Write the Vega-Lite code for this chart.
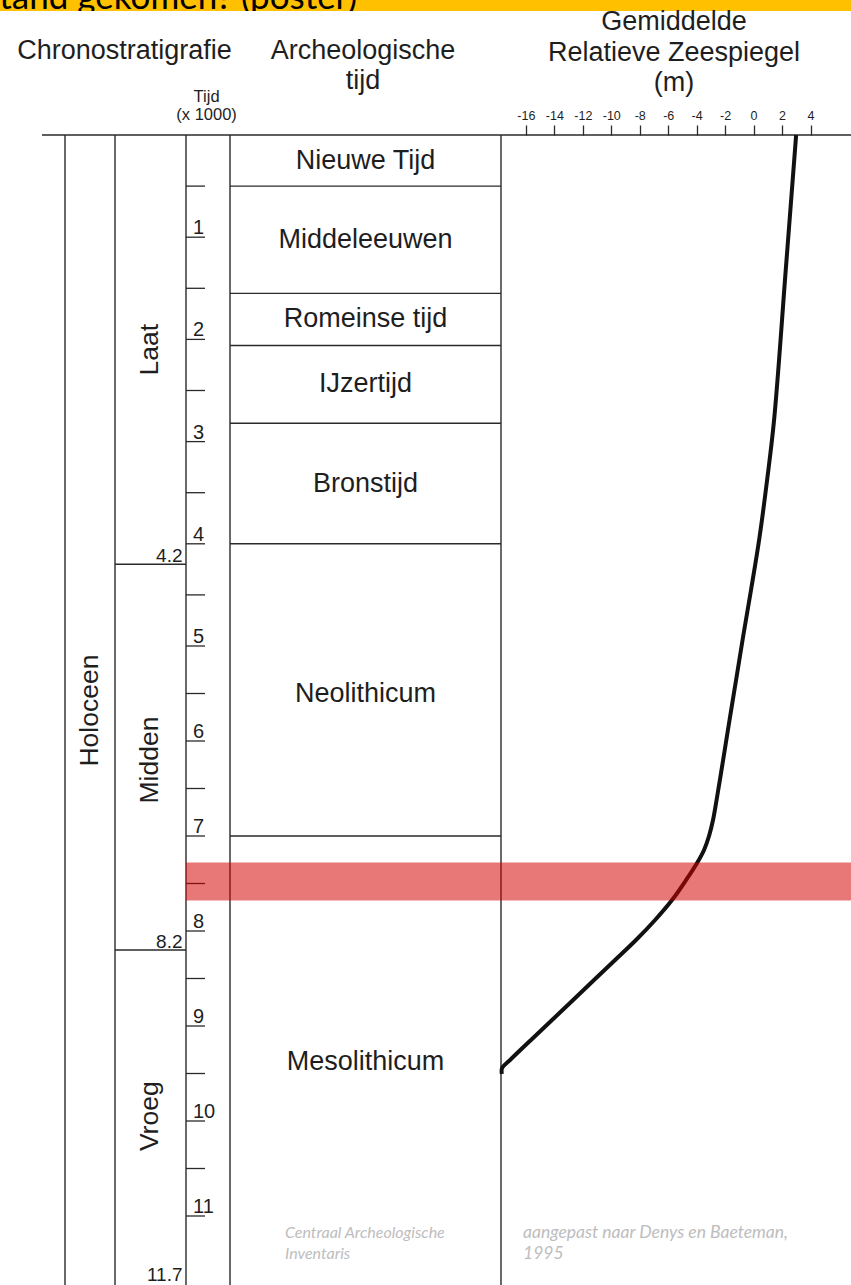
{
  "$schema": "https://vega.github.io/schema/vega-lite/v6.json",
  "width": 851,
  "height": 1285,
  "padding": 0,
  "autosize": "none",
  "background": "#ffffff",
  "config": {"view": {"stroke": null}},
  "datasets": {
    "archeologie": [
      {"periode": "Nieuwe Tijd", "begin": 0, "eind": 0.5},
      {"periode": "Middeleeuwen", "begin": 0.5, "eind": 1.55},
      {"periode": "Romeinse tijd", "begin": 1.55, "eind": 2.06},
      {"periode": "IJzertijd", "begin": 2.06, "eind": 2.82},
      {"periode": "Bronstijd", "begin": 2.82, "eind": 4.0},
      {"periode": "Neolithicum", "begin": 4.0, "eind": 7.0},
      {"periode": "Mesolithicum", "begin": 7.0, "eind": 11.75}
    ],
    "chrono": [
      {"serie": "Laat", "begin": 0, "eind": 4.2},
      {"serie": "Midden", "begin": 4.2, "eind": 8.2},
      {"serie": "Vroeg", "begin": 8.2, "eind": 11.7}
    ],
    "tijdstreepjes": [
      {"t": 0.5}, {"t": 1}, {"t": 1.5}, {"t": 2}, {"t": 2.5}, {"t": 3}, {"t": 3.5}, {"t": 4},
      {"t": 4.5}, {"t": 5}, {"t": 5.5}, {"t": 6}, {"t": 6.5}, {"t": 7}, {"t": 7.5}, {"t": 8},
      {"t": 8.5}, {"t": 9}, {"t": 9.5}, {"t": 10}, {"t": 10.5}, {"t": 11}
    ],
    "zeespiegel": [
      {"ka": 0, "m": 2.99},
      {"ka": 1.321, "m": 2.26},
      {"ka": 2.789, "m": 1.44},
      {"ka": 3.376, "m": 0.95},
      {"ka": 3.933, "m": 0.42},
      {"ka": 4.452, "m": -0.18},
      {"ka": 4.912, "m": -0.74},
      {"ka": 5.358, "m": -1.23},
      {"ka": 5.779, "m": -1.69},
      {"ka": 6.2, "m": -2.14},
      {"ka": 6.621, "m": -2.6},
      {"ka": 6.832, "m": -2.85},
      {"ka": 7.0, "m": -3.13},
      {"ka": 7.147, "m": -3.48},
      {"ka": 7.284, "m": -3.97},
      {"ka": 7.463, "m": -4.74},
      {"ka": 7.674, "m": -5.73},
      {"ka": 7.884, "m": -6.92},
      {"ka": 8.095, "m": -8.26},
      {"ka": 8.305, "m": -9.73},
      {"ka": 8.516, "m": -11.21},
      {"ka": 8.726, "m": -12.68},
      {"ka": 8.937, "m": -14.16},
      {"ka": 9.147, "m": -15.64},
      {"ka": 9.358, "m": -17.11},
      {"ka": 9.442, "m": -17.67},
      {"ka": 9.505, "m": -17.69}
    ],
    "markering": [{"van": 7.28, "tot": 7.68}]
  },
  "resolve": {"scale": {"x": "independent"}},
  "layer": [
    {
      "layer": [
        {
          "data": {"values": [{}]},
          "mark": {"type": "rect", "color": "#FFC000"},
          "encoding": {
            "x": {"datum": 0, "scale": {"domain": [0, 851], "nice": false, "zero": false}, "axis": null},
            "x2": {"datum": 851},
            "y": {"datum": -1.4, "scale": {"domain": [0, 5, 11], "range": [135, 646, 1216], "nice": false, "zero": false}, "axis": null},
            "y2": {"datum": -1.213}
          }
        },
        {
          "data": {"values": [{"tekst": "stand gekomen? (poster)"}]},
          "mark": {"type": "text", "font": "Lato", "fontSize": 35, "align": "right", "baseline": "alphabetic", "color": "#000000"},
          "encoding": {
            "text": {"field": "tekst"},
            "x": {"datum": 357, "scale": {"domain": [0, 851], "nice": false, "zero": false}, "axis": null},
            "y": {"datum": -1.232, "scale": {"domain": [0, 5, 11], "range": [135, 646, 1216], "nice": false, "zero": false}, "axis": null}
          }
        },
        {
          "data": {"values": [{}]},
          "mark": {"type": "rect", "color": "#ffffff"},
          "encoding": {
            "x": {"datum": 0, "scale": {"domain": [0, 851], "nice": false, "zero": false}, "axis": null},
            "x2": {"datum": 420},
            "y": {"datum": -1.213, "scale": {"domain": [0, 5, 11], "range": [135, 646, 1216], "nice": false, "zero": false}, "axis": null},
            "y2": {"datum": -1.05}
          }
        },
        {
          "data": {"values": [{}]},
          "mark": {"type": "text", "text": ["Chronostratigrafie"], "font": "Liberation Sans", "fontSize": 27, "align": "center", "baseline": "alphabetic", "color": "#1e1e1e"},
          "encoding": {
            "x": {"datum": 124.5, "scale": {"domain": [0, 851], "nice": false, "zero": false}, "axis": null},
            "y": {"datum": -0.741, "scale": {"domain": [0, 5, 11], "range": [135, 646, 1216], "nice": false, "zero": false}, "axis": null}
          }
        },
        {
          "data": {"values": [{}]},
          "mark": {"type": "text", "text": ["Archeologische", "tijd"], "lineHeight": 30, "font": "Liberation Sans", "fontSize": 27, "align": "center", "baseline": "alphabetic", "color": "#1e1e1e"},
          "encoding": {
            "x": {"datum": 363, "scale": {"domain": [0, 851], "nice": false, "zero": false}, "axis": null},
            "y": {"datum": -0.741, "scale": {"domain": [0, 5, 11], "range": [135, 646, 1216], "nice": false, "zero": false}, "axis": null}
          }
        },
        {
          "data": {"values": [{}]},
          "mark": {"type": "text", "text": ["Gemiddelde", "Relatieve Zeespiegel", "(m)"], "lineHeight": 30.5, "font": "Liberation Sans", "fontSize": 27, "align": "center", "baseline": "alphabetic", "color": "#1e1e1e"},
          "encoding": {
            "x": {"datum": 674, "scale": {"domain": [0, 851], "nice": false, "zero": false}, "axis": null},
            "y": {"datum": -1.027, "scale": {"domain": [0, 5, 11], "range": [135, 646, 1216], "nice": false, "zero": false}, "axis": null}
          }
        },
        {
          "data": {"values": [{}]},
          "mark": {"type": "text", "text": ["Tijd", "(x 1000)"], "lineHeight": 18.5, "font": "Liberation Sans", "fontSize": 16.5, "align": "center", "baseline": "alphabetic", "color": "#1e1e1e"},
          "encoding": {
            "x": {"datum": 206.6, "scale": {"domain": [0, 851], "nice": false, "zero": false}, "axis": null},
            "y": {"datum": -0.326, "scale": {"domain": [0, 5, 11], "range": [135, 646, 1216], "nice": false, "zero": false}, "axis": null}
          }
        },
        {
          "data": {"values": [{}]},
          "mark": {"type": "rule", "color": "#2a2a2a", "strokeWidth": 1.5},
          "encoding": {
            "x": {"datum": 42, "scale": {"domain": [0, 851], "nice": false, "zero": false}, "axis": null},
            "x2": {"datum": 851},
            "y": {"datum": 0, "scale": {"domain": [0, 5, 11], "range": [135, 646, 1216], "nice": false, "zero": false}, "axis": null}
          }
        },
        {
          "data": {"values": [{}]},
          "mark": {"type": "rule", "color": "#2a2a2a", "strokeWidth": 1.4},
          "encoding": {
            "x": {"datum": 65, "scale": {"domain": [0, 851], "nice": false, "zero": false}, "axis": null},
            "y": {"datum": 0, "scale": {"domain": [0, 5, 11], "range": [135, 646, 1216], "nice": false, "zero": false}, "axis": null},
            "y2": {"datum": 11.8}
          }
        },
        {
          "data": {"values": [{}]},
          "mark": {"type": "rule", "color": "#2a2a2a", "strokeWidth": 1.4},
          "encoding": {
            "x": {"datum": 115, "scale": {"domain": [0, 851], "nice": false, "zero": false}, "axis": null},
            "y": {"datum": 0, "scale": {"domain": [0, 5, 11], "range": [135, 646, 1216], "nice": false, "zero": false}, "axis": null},
            "y2": {"datum": 11.8}
          }
        },
        {
          "data": {"values": [{}]},
          "mark": {"type": "rule", "color": "#2a2a2a", "strokeWidth": 1.4},
          "encoding": {
            "x": {"datum": 186, "scale": {"domain": [0, 851], "nice": false, "zero": false}, "axis": null},
            "y": {"datum": 0, "scale": {"domain": [0, 5, 11], "range": [135, 646, 1216], "nice": false, "zero": false}, "axis": null},
            "y2": {"datum": 11.8}
          }
        },
        {
          "data": {"values": [{}]},
          "mark": {"type": "rule", "color": "#2a2a2a", "strokeWidth": 1.4},
          "encoding": {
            "x": {"datum": 230, "scale": {"domain": [0, 851], "nice": false, "zero": false}, "axis": null},
            "y": {"datum": 0, "scale": {"domain": [0, 5, 11], "range": [135, 646, 1216], "nice": false, "zero": false}, "axis": null},
            "y2": {"datum": 11.8}
          }
        },
        {
          "data": {"values": [{}]},
          "mark": {"type": "rule", "color": "#2a2a2a", "strokeWidth": 1.4},
          "encoding": {
            "x": {"datum": 501, "scale": {"domain": [0, 851], "nice": false, "zero": false}, "axis": null},
            "y": {"datum": 0, "scale": {"domain": [0, 5, 11], "range": [135, 646, 1216], "nice": false, "zero": false}, "axis": null},
            "y2": {"datum": 11.8}
          }
        },
        {
          "data": {"name": "tijdstreepjes"},
          "mark": {"type": "rule", "color": "#2a2a2a", "strokeWidth": 1.3},
          "encoding": {
            "x": {"datum": 186, "scale": {"domain": [0, 851], "nice": false, "zero": false}, "axis": null},
            "x2": {"datum": 205},
            "y": {"field": "t", "type": "quantitative", "scale": {"domain": [0, 5, 11], "range": [135, 646, 1216], "nice": false, "zero": false}, "axis": null}
          }
        },
        {
          "data": {"name": "tijdstreepjes"},
          "transform": [{"filter": "datum.t % 1 == 0"}],
          "mark": {"type": "text", "font": "Liberation Sans", "fontSize": 20, "align": "left", "baseline": "alphabetic", "dy": -3, "color": "#1e1e1e"},
          "encoding": {
            "text": {"field": "t", "type": "quantitative", "format": "d"},
            "x": {"datum": 193, "scale": {"domain": [0, 851], "nice": false, "zero": false}, "axis": null},
            "y": {"field": "t", "type": "quantitative", "scale": {"domain": [0, 5, 11], "range": [135, 646, 1216], "nice": false, "zero": false}, "axis": null}
          }
        },
        {
          "data": {"name": "chrono"},
          "transform": [{"filter": "datum.eind < 11.5"}],
          "mark": {"type": "rule", "color": "#2a2a2a", "strokeWidth": 1.4},
          "encoding": {
            "x": {"datum": 115, "scale": {"domain": [0, 851], "nice": false, "zero": false}, "axis": null},
            "x2": {"datum": 186},
            "y": {"field": "eind", "type": "quantitative", "scale": {"domain": [0, 5, 11], "range": [135, 646, 1216], "nice": false, "zero": false}, "axis": null}
          }
        },
        {
          "data": {"name": "chrono"},
          "mark": {"type": "text", "font": "Liberation Sans", "fontSize": 19, "align": "right", "baseline": "alphabetic", "dy": -2, "color": "#1e1e1e"},
          "encoding": {
            "text": {"field": "eind", "type": "quantitative", "format": ".1f"},
            "x": {"datum": 182.5, "scale": {"domain": [0, 851], "nice": false, "zero": false}, "axis": null},
            "y": {"field": "eind", "type": "quantitative", "scale": {"domain": [0, 5, 11], "range": [135, 646, 1216], "nice": false, "zero": false}, "axis": null}
          }
        },
        {
          "data": {"name": "chrono"},
          "transform": [{"calculate": "(datum.begin + datum.eind) / 2", "as": "midden"}],
          "mark": {"type": "text", "font": "Liberation Sans", "fontSize": 26.5, "align": "center", "baseline": "middle", "angle": 270, "color": "#1e1e1e"},
          "encoding": {
            "text": {"field": "serie"},
            "x": {"datum": 150, "scale": {"domain": [0, 851], "nice": false, "zero": false}, "axis": null},
            "y": {"field": "midden", "type": "quantitative", "scale": {"domain": [0, 5, 11], "range": [135, 646, 1216], "nice": false, "zero": false}, "axis": null}
          }
        },
        {
          "data": {"values": [{"tijdvak": "Holoceen"}]},
          "mark": {"type": "text", "font": "Liberation Sans", "fontSize": 26.5, "align": "center", "baseline": "middle", "angle": 270, "color": "#1e1e1e"},
          "encoding": {
            "text": {"field": "tijdvak"},
            "x": {"datum": 90, "scale": {"domain": [0, 851], "nice": false, "zero": false}, "axis": null},
            "y": {"datum": 5.68, "scale": {"domain": [0, 5, 11], "range": [135, 646, 1216], "nice": false, "zero": false}, "axis": null}
          }
        },
        {
          "data": {"name": "archeologie"},
          "transform": [{"filter": "datum.eind < 11"}],
          "mark": {"type": "rule", "color": "#2a2a2a", "strokeWidth": 1.4},
          "encoding": {
            "x": {"datum": 230, "scale": {"domain": [0, 851], "nice": false, "zero": false}, "axis": null},
            "x2": {"datum": 501},
            "y": {"field": "eind", "type": "quantitative", "scale": {"domain": [0, 5, 11], "range": [135, 646, 1216], "nice": false, "zero": false}, "axis": null}
          }
        },
        {
          "data": {"name": "archeologie"},
          "transform": [{"calculate": "(datum.begin + datum.eind) / 2", "as": "midden"}],
          "mark": {"type": "text", "font": "Liberation Sans", "fontSize": 27, "align": "center", "baseline": "middle", "color": "#1e1e1e"},
          "encoding": {
            "text": {"field": "periode"},
            "x": {"datum": 365.5, "scale": {"domain": [0, 851], "nice": false, "zero": false}, "axis": null},
            "y": {"field": "midden", "type": "quantitative", "scale": {"domain": [0, 5, 11], "range": [135, 646, 1216], "nice": false, "zero": false}, "axis": null}
          }
        },
        {
          "data": {"values": [{}]},
          "mark": {"type": "text", "text": ["Centraal Archeologische", "Inventaris"], "lineHeight": 21, "font": "Lato", "fontStyle": "italic", "fontSize": 16, "align": "left", "baseline": "alphabetic", "color": "#bdbdbd"},
          "encoding": {
            "x": {"datum": 285, "scale": {"domain": [0, 851], "nice": false, "zero": false}, "axis": null},
            "y": {"datum": 11.232, "scale": {"domain": [0, 5, 11], "range": [135, 646, 1216], "nice": false, "zero": false}, "axis": null}
          }
        },
        {
          "data": {"values": [{}]},
          "mark": {"type": "text", "text": ["aangepast naar Denys en Baeteman,", "1995"], "lineHeight": 21, "font": "Lato", "fontStyle": "italic", "fontSize": 17.5, "align": "left", "baseline": "alphabetic", "color": "#bdbdbd"},
          "encoding": {
            "x": {"datum": 523, "scale": {"domain": [0, 851], "nice": false, "zero": false}, "axis": null},
            "y": {"datum": 11.227, "scale": {"domain": [0, 5, 11], "range": [135, 646, 1216], "nice": false, "zero": false}, "axis": null}
          }
        }
      ]
    },
    {
      "data": {"name": "zeespiegel"},
      "mark": {"type": "line", "color": "#111111", "strokeWidth": 4, "strokeJoin": "round", "strokeCap": "butt", "interpolate": "catmull-rom"},
      "encoding": {
        "x": {
          "field": "m",
          "type": "quantitative",
          "scale": {"domain": [-52.95, 6.845], "nice": false, "zero": false},
          "axis": {
            "orient": "top",
            "offset": -135,
            "values": [-16, -14, -12, -10, -8, -6, -4, -2, 0, 2, 4],
            "labelExpr": "'' + datum.value",
            "domain": false,
            "grid": false,
            "title": null,
            "tickSize": 10,
            "tickWidth": 1.3,
            "tickColor": "#2a2a2a",
            "labelFont": "Liberation Sans",
            "labelFontSize": 12.5,
            "labelColor": "#1e1e1e",
            "labelPadding": 3
          }
        },
        "y": {"field": "ka", "type": "quantitative", "scale": {"domain": [0, 5, 11], "range": [135, 646, 1216], "nice": false, "zero": false}, "axis": null},
        "order": {"field": "ka", "type": "quantitative"}
      }
    },
    {
      "data": {"name": "markering"},
      "mark": {"type": "rect", "color": "#d40000", "opacity": 0.53},
      "encoding": {
        "x": {"datum": 186, "scale": {"domain": [0, 851], "nice": false, "zero": false}, "axis": null},
        "x2": {"datum": 851},
        "y": {"field": "van", "type": "quantitative", "scale": {"domain": [0, 5, 11], "range": [135, 646, 1216], "nice": false, "zero": false}, "axis": null},
        "y2": {"field": "tot"}
      }
    }
  ]
}
